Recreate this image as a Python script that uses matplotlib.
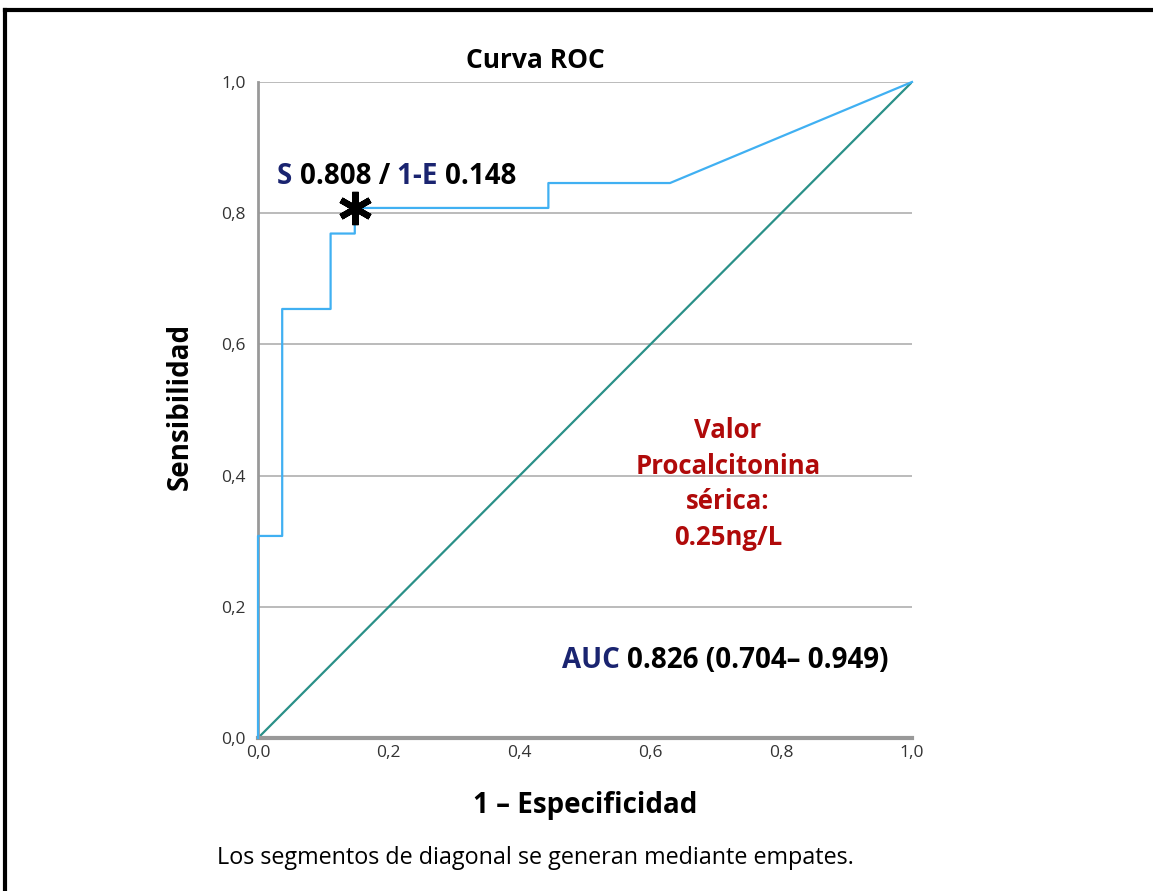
import numpy as np
import matplotlib
matplotlib.use("Agg")
import matplotlib.pyplot as plt
from matplotlib.lines import Line2D
from matplotlib.offsetbox import TextArea, HPacker, AnnotationBbox

# ROC curve (1 - specificity, sensitivity)
fpr = [0.0, 0.0, 0.037, 0.037, 0.111, 0.111, 0.148, 0.148, 0.444, 0.444, 0.630, 1.0]
tpr = [0.0, 0.308, 0.308, 0.654, 0.654, 0.769, 0.769, 0.808, 0.808, 0.846, 0.846, 1.0]
cut_fpr = 0.148
cut_tpr = 0.808
ticks = [0.0, 0.2, 0.4, 0.6, 0.8, 1.0]
tick_labels = ['0,0', '0,2', '0,4', '0,6', '0,8', '1,0']

navy = '#1a2470'
red = '#b00a0a'
font = 'Open Sans'
plt.rcParams['font.family'] = [font, 'DejaVu Sans']

fig = plt.figure(figsize=(11.53, 8.91), dpi=100)
ax = fig.add_axes([258/1153, 1-738/891, (912-258)/1153, (738-82)/891])

ax.set_xlim(0, 1)
ax.set_ylim(0, 1)
ax.set_xticks(ticks)
ax.set_yticks(ticks)
ax.set_xticklabels(tick_labels)
ax.set_yticklabels(tick_labels)
ax.tick_params(length=0, labelsize=12.5, colors='#333333')
ax.tick_params(axis='y', pad=9)
ax.tick_params(axis='x', pad=5)
for s in ['top', 'right']:
    ax.spines[s].set_visible(False)
ax.spines['left'].set_color('#999999')
ax.spines['left'].set_linewidth(2)
ax.spines['bottom'].set_color('#999999')
ax.spines['bottom'].set_linewidth(3)
for t in ticks[1:]:
    ax.axhline(t, color='#b5b5b5', lw=1.3, zorder=0)

ax.plot([0, 1], [0, 1], color='#2a9088', lw=1.6, zorder=2)
ax.plot(fpr, tpr, color='#40b0f2', lw=1.6, zorder=3, clip_on=False)
ax.plot(cut_fpr, cut_tpr, marker=(6, 2, 0), color='black', ms=24,
        mew=4.5, zorder=4, clip_on=False)

fig.text(535/1153, 1-60/891, 'Curva ROC', ha='center', va='center',
         fontsize=19, fontweight='bold')
fig.text(180/1153, 1-406/891, 'Sensibilidad', ha='center', va='center',
         rotation=90, fontsize=20, fontweight='bold')
fig.text(585/1153, 1-805/891, '1 – Especificidad', ha='center', va='center',
         fontsize=20, fontweight='bold')
fig.text(535/1153, 1-858/891, 'Los segmentos de diagonal se generan mediante empates.',
         ha='center', va='center', fontsize=16.8)


def colored_text(parts, xy, size):
    boxes = [TextArea(t, textprops=dict(color=c, fontsize=size, fontweight='bold'))
             for t, c in parts]
    pack = HPacker(children=boxes, align='baseline', pad=0, sep=0)
    ab = AnnotationBbox(pack, xy, xycoords='figure fraction', frameon=False,
                        box_alignment=(0.5, 0.5))
    fig.add_artist(ab)


colored_text([('S ', navy), ('0.808 / ', 'black'), ('1-E ', navy), ('0.148', 'black')],
             (397/1153, 1-177/891), 20)
colored_text([('AUC ', navy), ('0.826 (0.704– 0.949)', 'black')],
             (725/1153, 1-660/891), 20)

fig.text(728/1153, 1-484/891, 'Valor\nProcalcitonina\nsérica:\n0.25ng/L',
         ha='center', va='center', fontsize=18.5, fontweight='bold', color=red,
         linespacing=1.4)

# frame around the picture (top and left edges only)
fig.add_artist(Line2D([5/1153, 1], [1-10/891, 1-10/891], color='black', lw=3))
fig.add_artist(Line2D([5/1153, 5/1153], [0, 1-10/891], color='black', lw=3))

fig.savefig('out.png', dpi=100, facecolor='white')
